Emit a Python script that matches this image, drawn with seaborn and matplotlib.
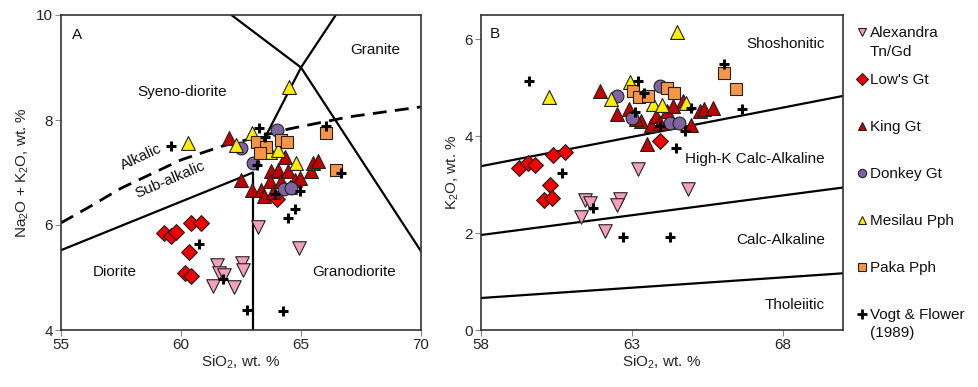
import numpy as np
import pandas as pd
import matplotlib
matplotlib.use("Agg")
import matplotlib.pyplot as plt
import seaborn as sns
from matplotlib.lines import Line2D

sns.set_style("ticks")
plt.rcParams['font.family'] = ['Liberation Sans', 'DejaVu Sans']
plt.rcParams['mathtext.default'] = 'regular'

# ---- data: panel A (SiO2 vs Na2O+K2O) ----
alex_a_si = [63.2, 61.5, 61.6, 61.35, 62.2, 62.55, 62.6, 64.9, 61.8]
alex_a_tas = [5.97, 5.24, 5.08, 4.84, 4.81, 5.28, 5.14, 5.56, 5.05]
lows_a_si = [59.3, 59.6, 59.8, 60.4, 60.85, 60.35, 60.15, 60.4, 64.0]
lows_a_tas = [5.84, 5.79, 5.87, 6.04, 6.03, 5.49, 5.09, 5.02, 6.5]
king_a_si = [62.0, 62.5, 62.95, 63.35, 63.75, 64.05, 64.35, 63.7, 64.15, 64.45,
             64.75, 64.95, 65.4, 65.5, 65.7, 63.45, 63.85, 64.55]
king_a_tas = [7.65, 6.86, 6.67, 6.67, 7.02, 7.05, 7.3, 6.83, 6.83, 7.02,
              6.86, 6.89, 7.02, 7.18, 7.21, 6.56, 6.63, 6.73]
donk_a_si = [62.5, 63.0, 64.0, 64.3, 64.6]
donk_a_tas = [7.46, 7.18, 7.81, 6.68, 6.7]
mesi_a_si = [60.3, 64.5, 62.3, 62.95, 63.7, 64.05, 64.8]
mesi_a_tas = [7.56, 8.62, 7.52, 7.75, 7.4, 7.43, 7.18]
paka_a_si = [63.15, 63.55, 63.3, 64.15, 64.4, 66.05, 66.45]
paka_a_tas = [7.59, 7.48, 7.37, 7.62, 7.59, 7.75, 7.05]
vogt_a_si = [59.6, 60.75, 61.75, 62.75, 64.25, 64.45, 64.75, 64.95, 63.9,
             63.25, 63.5, 63.15, 66.05, 66.65]
vogt_a_tas = [7.5, 5.64, 4.98, 4.38, 4.37, 6.13, 6.3, 6.65, 6.59,
              7.84, 7.68, 7.14, 7.89, 7.0]

# ---- data: panel B (SiO2 vs K2O) ----
alex_b_si = [63.2, 64.85, 61.45, 61.6, 62.6, 62.5, 61.3, 62.1]
alex_b_k = [3.33, 2.91, 2.68, 2.62, 2.71, 2.57, 2.33, 2.04]
lows_b_si = [59.25, 59.55, 59.8, 60.4, 60.8, 60.3, 60.1, 60.35, 63.95]
lows_b_k = [3.35, 3.45, 3.4, 3.62, 3.67, 3.0, 2.69, 2.73, 3.89]
king_b_si = [61.95, 62.5, 62.9, 63.3, 63.65, 63.8, 64.15, 64.35, 64.7, 64.95,
             65.25, 65.4, 65.7, 63.5, 63.95, 63.15]
king_b_k = [4.93, 4.45, 4.57, 4.31, 4.24, 4.42, 4.52, 4.62, 4.73, 4.24,
            4.52, 4.55, 4.59, 3.83, 4.28, 4.35]
donk_b_si = [62.5, 63.0, 63.95, 64.25, 64.55]
donk_b_k = [4.83, 4.38, 5.04, 4.27, 4.28]
mesi_b_si = [60.25, 64.5, 62.3, 62.95, 63.7, 64.0, 64.8]
mesi_b_k = [4.8, 6.14, 4.76, 5.11, 4.66, 4.64, 4.68]
paka_b_si = [66.05, 66.45, 63.05, 63.25, 63.55, 64.15, 64.4]
paka_b_k = [5.31, 4.97, 4.93, 4.8, 4.83, 5.0, 4.9]
vogt_b_si = [59.6, 60.7, 61.7, 62.7, 64.25, 64.45, 66.05, 66.65, 63.2, 63.4,
             63.1, 64.95, 64.75, 63.95]
vogt_b_k = [5.14, 3.24, 2.52, 1.91, 1.91, 3.76, 5.49, 4.57, 5.14, 4.89,
            4.5, 4.59, 4.11, 4.21]

# ---- classification boundaries ----
alk_curve_x = [55, 56.2, 57.5, 60, 61.7, 64.5, 67, 70]
alk_curve_y = [6.04, 6.35, 6.70, 7.24, 7.5, 7.83, 8.06, 8.25]
dio_x = [55, 63, 63]
dio_y = [5.52, 7.0, 4.0]
gran_left_x = [63.45, 65.0, 66.45]
gran_left_y = [7.62, 9.0, 10.0]
gran_right_x = [62.1, 65.0, 70.0]
gran_right_y = [10.0, 9.0, 5.5]
pt_x = [58, 70]
shosh_y = [3.38, 4.83]
highk_y = [1.96, 2.94]
thol_y = [0.66, 1.17]

groups = [
    (["Alexandra", "Tn/Gd"], "v", "#F4A0BD", 95, alex_a_si, alex_a_tas, alex_b_si, alex_b_k),
    (["Low's Gt"], "D", "#EE0000", 65, lows_a_si, lows_a_tas, lows_b_si, lows_b_k),
    (["King Gt"], "^", "#C00000", 100, king_a_si, king_a_tas, king_b_si, king_b_k),
    (["Donkey Gt"], "o", "#8064A2", 85, donk_a_si, donk_a_tas, donk_b_si, donk_b_k),
    (["Mesilau Pph"], "^", "#FFEE00", 100, mesi_a_si, mesi_a_tas, mesi_b_si, mesi_b_k),
    (["Paka Pph"], "s", "#F79646", 70, paka_a_si, paka_a_tas, paka_b_si, paka_b_k),
    (["Vogt & Flower", "(1989)"], "+", "black", 55, vogt_a_si, vogt_a_tas, vogt_b_si, vogt_b_k),
]

W, H = 979, 387
fig = plt.figure(figsize=(W / 100, H / 100), dpi=100)
ax1 = fig.add_axes([61 / W, 1 - 330 / H, 360 / W, 315 / H])
ax2 = fig.add_axes([481 / W, 1 - 330 / H, 362 / W, 315 / H])

for ax in (ax1, ax2):
    for sp in ax.spines.values():
        sp.set_linewidth(1.2)
        sp.set_color("#333333")
    ax.tick_params(direction="out", length=4, color="#888888", labelsize=11, pad=2)

# panel A boundaries
ax1.plot(alk_curve_x, alk_curve_y, color="black", lw=2.0, ls=(0, (5, 3)))
ax1.plot(dio_x, dio_y, color="black", lw=1.6)
ax1.plot(gran_left_x, gran_left_y, color="black", lw=1.6)
ax1.plot(gran_right_x, gran_right_y, color="black", lw=1.6)

# panel B boundaries
for yy in (shosh_y, highk_y, thol_y):
    ax2.plot(pt_x, yy, color="black", lw=1.6)

for i, (label, mk, col, size, xa, ya, xb, yb) in enumerate(groups):
    if mk == "+":
        kw = dict(color=col, linewidth=2.2)
    else:
        kw = dict(color=col, edgecolor="#222222", linewidth=0.8)
    sns.scatterplot(x=xa, y=ya, marker=mk, s=size, ax=ax1, zorder=3, **kw)
    sns.scatterplot(x=xb, y=yb, marker=mk, s=size, ax=ax2, zorder=3, **kw)

    # legend entry, drawn by hand so the marker sits on the first text line
    y0 = 31.7 + 47 * i
    if mk == "+":
        h = Line2D([862 / W], [1 - y0 / H], marker="+", ls="none", color=col,
                   markersize=7, markeredgewidth=2, transform=fig.transFigure)
    else:
        h = Line2D([862 / W], [1 - y0 / H], marker=mk, ls="none", markerfacecolor=col,
                   markeredgecolor="#222222", markersize=6, markeredgewidth=0.8,
                   transform=fig.transFigure)
    fig.add_artist(h)
    for j, line in enumerate(label):
        fig.text(870 / W, 1 - (y0 + 18.3 * j) / H, line, fontsize=11,
                 ha="left", va="center_baseline", color="#111111")

ax1.set_xlim(55, 70)
ax1.set_ylim(4, 10)
ax1.set_xticks([55, 60, 65, 70])
ax1.set_yticks([4, 6, 8, 10])
ax1.set_xlabel("SiO$_2$, wt. %", fontsize=11)
ax1.set_ylabel("Na$_2$O + K$_2$O, wt. %", fontsize=11)
ax1.yaxis.set_label_coords(-0.083, 0.5)
ax1.xaxis.set_label_coords(0.5, -0.075)

ax2.set_xlim(58, 70)
ax2.set_ylim(0, 6.5)
ax2.set_xticks([58, 63, 68])
ax2.set_yticks([0, 2, 4, 6])
ax2.set_xlabel("SiO$_2$, wt. %", fontsize=11)
ax2.set_ylabel("K$_2$O, wt. %", fontsize=11)
ax2.yaxis.set_label_coords(-0.055, 0.5)
ax2.xaxis.set_label_coords(0.5, -0.075)

# region labels panel A
tk = dict(fontsize=11, color="#111111")
ax1.text(55.65, 9.62, "A", ha="center", va="center", **tk)
ax1.text(68.1, 9.33, "Granite", ha="center", va="center", **tk)
ax1.text(60.05, 8.54, "Syeno-diorite", ha="center", va="center", **tk)
ax1.text(58.35, 7.3, "Alkalic", ha="center", va="center", rotation=25, **tk)
ax1.text(59.55, 6.86, "Sub-alkalic", ha="center", va="center", rotation=23, **tk)
ax1.text(57.25, 5.11, "Diorite", ha="center", va="center", **tk)
ax1.text(67.2, 5.11, "Granodiorite", ha="center", va="center", **tk)

# region labels panel B
ax2.text(58.46, 6.11, "B", ha="center", va="center", **tk)
ax2.text(69.4, 5.9, "Shoshonitic", ha="right", va="center", **tk)
ax2.text(69.4, 3.52, "High-K Calc-Alkaline", ha="right", va="center", **tk)
ax2.text(69.4, 1.86, "Calc-Alkaline", ha="right", va="center", **tk)
ax2.text(69.4, 0.52, "Tholeiitic", ha="right", va="center", **tk)

fig.savefig("out.png", dpi=100)
